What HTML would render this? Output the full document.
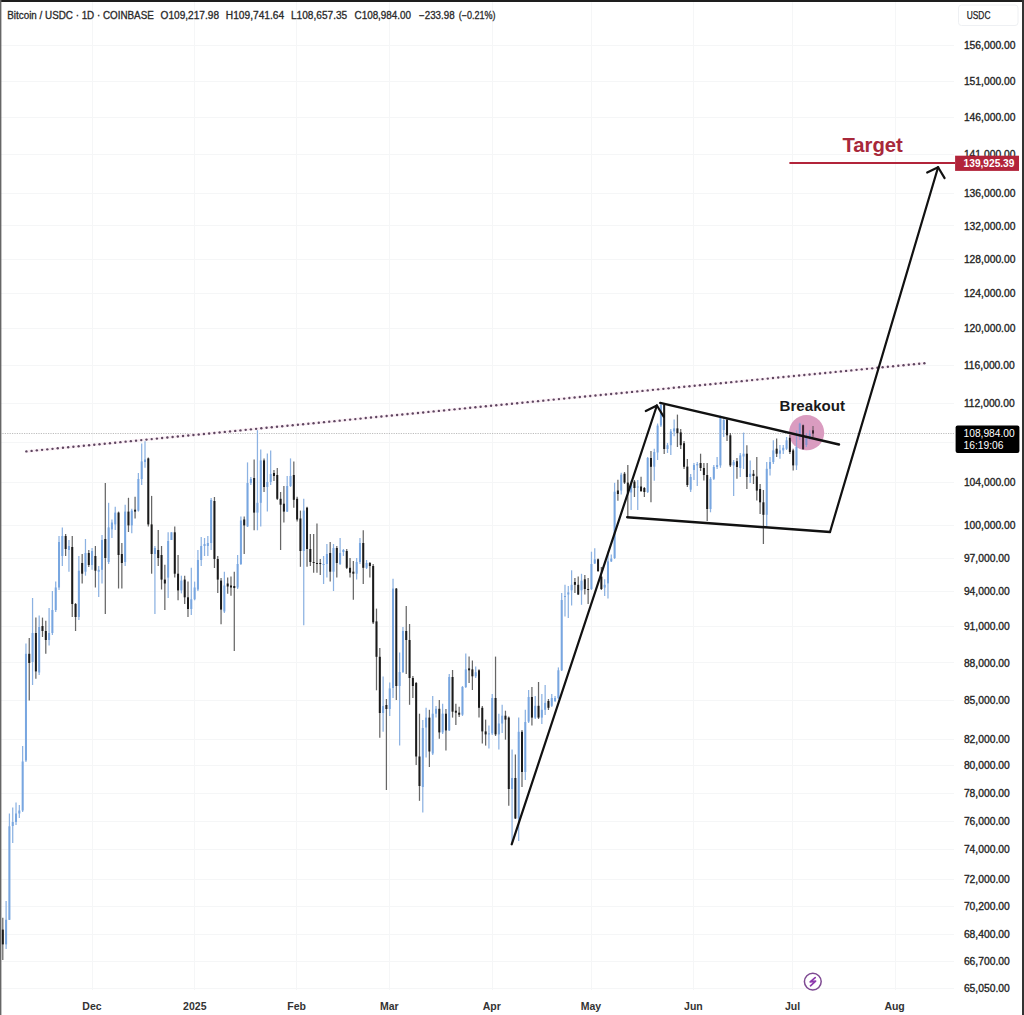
<!DOCTYPE html>
<html><head><meta charset="utf-8"><title>BTC USDC</title><style>
html,body{margin:0;padding:0;width:1024px;height:1015px;overflow:hidden;background:#fff}
svg{display:block}
text{font-family:"Liberation Sans",sans-serif}
</style></head><body>
<svg width="1024" height="1015" viewBox="0 0 1024 1015">
<line x1="0" y1="45.5" x2="954" y2="45.5" stroke="#f5f6f7" stroke-width="1"/>
<line x1="0" y1="81.5" x2="954" y2="81.5" stroke="#f5f6f7" stroke-width="1"/>
<line x1="0" y1="117.5" x2="954" y2="117.5" stroke="#f5f6f7" stroke-width="1"/>
<line x1="0" y1="154.5" x2="954" y2="154.5" stroke="#f5f6f7" stroke-width="1"/>
<line x1="0" y1="193.5" x2="954" y2="193.5" stroke="#f5f6f7" stroke-width="1"/>
<line x1="0" y1="225.5" x2="954" y2="225.5" stroke="#f5f6f7" stroke-width="1"/>
<line x1="0" y1="259.5" x2="954" y2="259.5" stroke="#f5f6f7" stroke-width="1"/>
<line x1="0" y1="293.5" x2="954" y2="293.5" stroke="#f5f6f7" stroke-width="1"/>
<line x1="0" y1="328.5" x2="954" y2="328.5" stroke="#f5f6f7" stroke-width="1"/>
<line x1="0" y1="365.5" x2="954" y2="365.5" stroke="#f5f6f7" stroke-width="1"/>
<line x1="0" y1="403.5" x2="954" y2="403.5" stroke="#f5f6f7" stroke-width="1"/>
<line x1="0" y1="442.5" x2="954" y2="442.5" stroke="#f5f6f7" stroke-width="1"/>
<line x1="0" y1="482.5" x2="954" y2="482.5" stroke="#f5f6f7" stroke-width="1"/>
<line x1="0" y1="525.5" x2="954" y2="525.5" stroke="#f5f6f7" stroke-width="1"/>
<line x1="0" y1="558.5" x2="954" y2="558.5" stroke="#f5f6f7" stroke-width="1"/>
<line x1="0" y1="591.5" x2="954" y2="591.5" stroke="#f5f6f7" stroke-width="1"/>
<line x1="0" y1="626.5" x2="954" y2="626.5" stroke="#f5f6f7" stroke-width="1"/>
<line x1="0" y1="662.5" x2="954" y2="662.5" stroke="#f5f6f7" stroke-width="1"/>
<line x1="0" y1="700.5" x2="954" y2="700.5" stroke="#f5f6f7" stroke-width="1"/>
<line x1="0" y1="739.5" x2="954" y2="739.5" stroke="#f5f6f7" stroke-width="1"/>
<line x1="0" y1="765.5" x2="954" y2="765.5" stroke="#f5f6f7" stroke-width="1"/>
<line x1="0" y1="793.5" x2="954" y2="793.5" stroke="#f5f6f7" stroke-width="1"/>
<line x1="0" y1="821.5" x2="954" y2="821.5" stroke="#f5f6f7" stroke-width="1"/>
<line x1="0" y1="849.5" x2="954" y2="849.5" stroke="#f5f6f7" stroke-width="1"/>
<line x1="0" y1="879.5" x2="954" y2="879.5" stroke="#f5f6f7" stroke-width="1"/>
<line x1="0" y1="906.5" x2="954" y2="906.5" stroke="#f5f6f7" stroke-width="1"/>
<line x1="0" y1="934.5" x2="954" y2="934.5" stroke="#f5f6f7" stroke-width="1"/>
<line x1="0" y1="961.5" x2="954" y2="961.5" stroke="#f5f6f7" stroke-width="1"/>
<line x1="0" y1="988.5" x2="954" y2="988.5" stroke="#f5f6f7" stroke-width="1"/>
<line x1="92.5" y1="0" x2="92.5" y2="990" stroke="#f5f6f7" stroke-width="1"/>
<line x1="194.5" y1="0" x2="194.5" y2="990" stroke="#f5f6f7" stroke-width="1"/>
<line x1="296.5" y1="0" x2="296.5" y2="990" stroke="#f5f6f7" stroke-width="1"/>
<line x1="389.5" y1="0" x2="389.5" y2="990" stroke="#f5f6f7" stroke-width="1"/>
<line x1="492.5" y1="0" x2="492.5" y2="990" stroke="#f5f6f7" stroke-width="1"/>
<line x1="591.5" y1="0" x2="591.5" y2="990" stroke="#f5f6f7" stroke-width="1"/>
<line x1="693.5" y1="0" x2="693.5" y2="990" stroke="#f5f6f7" stroke-width="1"/>
<line x1="792.5" y1="0" x2="792.5" y2="990" stroke="#f5f6f7" stroke-width="1"/>
<line x1="895.5" y1="0" x2="895.5" y2="990" stroke="#f5f6f7" stroke-width="1"/>
<line x1="0" y1="433.5" x2="955" y2="433.5" stroke="#bdbdbd" stroke-width="1" stroke-dasharray="1.2 1.2"/>
<circle cx="806.6" cy="432.7" r="17.6" fill="#e2afcc"/>
<line x1="2.80" y1="917.8" x2="2.80" y2="960.0" stroke="#666666" stroke-width="1.25"/>
<rect x="1.80" y="929.6" width="2" height="14.8" fill="#1a1a1a"/>
<line x1="6.11" y1="901.0" x2="6.11" y2="949.0" stroke="#8cb2e2" stroke-width="1.25"/>
<rect x="5.11" y="919.8" width="2" height="24.6" fill="#78a6e0"/>
<line x1="9.41" y1="813.5" x2="9.41" y2="920.0" stroke="#8cb2e2" stroke-width="1.25"/>
<rect x="8.41" y="826.3" width="2" height="93.5" fill="#78a6e0"/>
<line x1="12.72" y1="807.6" x2="12.72" y2="843.0" stroke="#8cb2e2" stroke-width="1.25"/>
<rect x="11.72" y="822.0" width="2" height="4.0" fill="#78a6e0"/>
<line x1="16.03" y1="802.6" x2="16.03" y2="825.0" stroke="#8cb2e2" stroke-width="1.25"/>
<rect x="15.03" y="813.5" width="2" height="8.5" fill="#78a6e0"/>
<line x1="19.34" y1="805.0" x2="19.34" y2="818.0" stroke="#8cb2e2" stroke-width="1.25"/>
<rect x="18.34" y="810.5" width="2" height="3.0" fill="#78a6e0"/>
<line x1="22.64" y1="746.0" x2="22.64" y2="812.0" stroke="#8cb2e2" stroke-width="1.25"/>
<rect x="21.64" y="761.5" width="2" height="49.0" fill="#78a6e0"/>
<line x1="25.95" y1="643.5" x2="25.95" y2="762.0" stroke="#8cb2e2" stroke-width="1.25"/>
<rect x="24.95" y="653.8" width="2" height="106.7" fill="#78a6e0"/>
<line x1="29.26" y1="638.0" x2="29.26" y2="700.4" stroke="#666666" stroke-width="1.25"/>
<rect x="28.26" y="653.8" width="2" height="9.2" fill="#1a1a1a"/>
<line x1="32.56" y1="598.0" x2="32.56" y2="685.0" stroke="#8cb2e2" stroke-width="1.25"/>
<rect x="31.56" y="633.0" width="2" height="29.0" fill="#78a6e0"/>
<line x1="35.87" y1="617.6" x2="35.87" y2="678.7" stroke="#666666" stroke-width="1.25"/>
<rect x="34.87" y="633.0" width="2" height="38.4" fill="#1a1a1a"/>
<line x1="39.18" y1="615.5" x2="39.18" y2="675.0" stroke="#8cb2e2" stroke-width="1.25"/>
<rect x="38.18" y="627.0" width="2" height="45.5" fill="#78a6e0"/>
<line x1="42.48" y1="617.6" x2="42.48" y2="637.0" stroke="#666666" stroke-width="1.25"/>
<rect x="41.48" y="626.0" width="2" height="5.0" fill="#1a1a1a"/>
<line x1="45.79" y1="620.7" x2="45.79" y2="653.8" stroke="#666666" stroke-width="1.25"/>
<rect x="44.79" y="631.0" width="2" height="9.0" fill="#1a1a1a"/>
<line x1="49.10" y1="608.0" x2="49.10" y2="645.5" stroke="#8cb2e2" stroke-width="1.25"/>
<rect x="48.10" y="633.0" width="2" height="7.0" fill="#78a6e0"/>
<line x1="52.40" y1="591.0" x2="52.40" y2="635.0" stroke="#8cb2e2" stroke-width="1.25"/>
<rect x="51.40" y="610.0" width="2" height="23.0" fill="#78a6e0"/>
<line x1="55.71" y1="581.6" x2="55.71" y2="612.0" stroke="#8cb2e2" stroke-width="1.25"/>
<rect x="54.71" y="587.5" width="2" height="22.5" fill="#78a6e0"/>
<line x1="59.02" y1="536.0" x2="59.02" y2="590.0" stroke="#8cb2e2" stroke-width="1.25"/>
<rect x="58.02" y="542.0" width="2" height="45.5" fill="#78a6e0"/>
<line x1="62.33" y1="527.4" x2="62.33" y2="566.0" stroke="#8cb2e2" stroke-width="1.25"/>
<rect x="61.33" y="536.0" width="2" height="20.0" fill="#78a6e0"/>
<line x1="65.63" y1="534.0" x2="65.63" y2="556.0" stroke="#666666" stroke-width="1.25"/>
<rect x="64.63" y="536.0" width="2" height="13.0" fill="#1a1a1a"/>
<line x1="68.94" y1="540.0" x2="68.94" y2="571.7" stroke="#8cb2e2" stroke-width="1.25"/>
<rect x="67.94" y="546.0" width="2" height="4.0" fill="#78a6e0"/>
<line x1="72.25" y1="536.0" x2="72.25" y2="617.0" stroke="#666666" stroke-width="1.25"/>
<rect x="71.25" y="547.0" width="2" height="57.0" fill="#1a1a1a"/>
<line x1="75.55" y1="603.0" x2="75.55" y2="631.0" stroke="#666666" stroke-width="1.25"/>
<rect x="74.55" y="604.0" width="2" height="13.0" fill="#1a1a1a"/>
<line x1="78.86" y1="556.0" x2="78.86" y2="620.0" stroke="#8cb2e2" stroke-width="1.25"/>
<rect x="77.86" y="570.7" width="2" height="46.3" fill="#78a6e0"/>
<line x1="82.17" y1="554.0" x2="82.17" y2="583.5" stroke="#666666" stroke-width="1.25"/>
<rect x="81.17" y="563.0" width="2" height="10.7" fill="#1a1a1a"/>
<line x1="85.47" y1="539.0" x2="85.47" y2="575.7" stroke="#8cb2e2" stroke-width="1.25"/>
<rect x="84.47" y="553.0" width="2" height="18.7" fill="#78a6e0"/>
<line x1="88.78" y1="550.0" x2="88.78" y2="567.0" stroke="#666666" stroke-width="1.25"/>
<rect x="87.78" y="553.0" width="2" height="12.0" fill="#1a1a1a"/>
<line x1="92.09" y1="548.0" x2="92.09" y2="569.8" stroke="#8cb2e2" stroke-width="1.25"/>
<rect x="91.09" y="551.0" width="2" height="14.0" fill="#78a6e0"/>
<line x1="95.40" y1="546.0" x2="95.40" y2="587.5" stroke="#666666" stroke-width="1.25"/>
<rect x="94.40" y="556.0" width="2" height="14.7" fill="#1a1a1a"/>
<line x1="98.70" y1="566.0" x2="98.70" y2="597.0" stroke="#8cb2e2" stroke-width="1.25"/>
<rect x="97.70" y="569.8" width="2" height="1.9" fill="#78a6e0"/>
<line x1="102.01" y1="535.0" x2="102.01" y2="583.5" stroke="#8cb2e2" stroke-width="1.25"/>
<rect x="101.01" y="540.0" width="2" height="29.8" fill="#78a6e0"/>
<line x1="105.32" y1="483.0" x2="105.32" y2="614.0" stroke="#666666" stroke-width="1.25"/>
<rect x="104.32" y="539.0" width="2" height="19.0" fill="#1a1a1a"/>
<line x1="108.62" y1="502.8" x2="108.62" y2="564.0" stroke="#8cb2e2" stroke-width="1.25"/>
<rect x="107.62" y="527.4" width="2" height="34.6" fill="#78a6e0"/>
<line x1="111.93" y1="519.5" x2="111.93" y2="538.0" stroke="#8cb2e2" stroke-width="1.25"/>
<rect x="110.93" y="522.5" width="2" height="6.9" fill="#78a6e0"/>
<line x1="115.24" y1="506.7" x2="115.24" y2="530.0" stroke="#8cb2e2" stroke-width="1.25"/>
<rect x="114.24" y="512.6" width="2" height="11.8" fill="#78a6e0"/>
<line x1="118.55" y1="511.6" x2="118.55" y2="588.5" stroke="#666666" stroke-width="1.25"/>
<rect x="117.55" y="512.6" width="2" height="42.4" fill="#1a1a1a"/>
<line x1="121.85" y1="543.0" x2="121.85" y2="588.5" stroke="#666666" stroke-width="1.25"/>
<rect x="120.85" y="554.0" width="2" height="9.0" fill="#1a1a1a"/>
<line x1="125.16" y1="504.7" x2="125.16" y2="566.0" stroke="#8cb2e2" stroke-width="1.25"/>
<rect x="124.16" y="511.6" width="2" height="50.4" fill="#78a6e0"/>
<line x1="128.47" y1="497.8" x2="128.47" y2="532.0" stroke="#666666" stroke-width="1.25"/>
<rect x="127.47" y="511.6" width="2" height="13.8" fill="#1a1a1a"/>
<line x1="131.77" y1="508.7" x2="131.77" y2="533.3" stroke="#8cb2e2" stroke-width="1.25"/>
<rect x="130.77" y="510.6" width="2" height="14.8" fill="#78a6e0"/>
<line x1="135.08" y1="496.8" x2="135.08" y2="518.5" stroke="#666666" stroke-width="1.25"/>
<rect x="134.08" y="509.7" width="2" height="1.9" fill="#1a1a1a"/>
<line x1="138.39" y1="473.0" x2="138.39" y2="511.6" stroke="#8cb2e2" stroke-width="1.25"/>
<rect x="137.39" y="479.0" width="2" height="31.6" fill="#78a6e0"/>
<line x1="141.69" y1="443.6" x2="141.69" y2="485.0" stroke="#8cb2e2" stroke-width="1.25"/>
<rect x="140.69" y="461.4" width="2" height="17.6" fill="#78a6e0"/>
<line x1="145.00" y1="439.4" x2="145.00" y2="467.8" stroke="#8cb2e2" stroke-width="1.25"/>
<rect x="144.00" y="459.5" width="2" height="2.5" fill="#78a6e0"/>
<line x1="148.31" y1="457.4" x2="148.31" y2="526.4" stroke="#666666" stroke-width="1.25"/>
<rect x="147.31" y="458.4" width="2" height="66.0" fill="#1a1a1a"/>
<line x1="151.62" y1="495.9" x2="151.62" y2="573.7" stroke="#666666" stroke-width="1.25"/>
<rect x="150.62" y="524.4" width="2" height="29.6" fill="#1a1a1a"/>
<line x1="154.92" y1="546.0" x2="154.92" y2="614.0" stroke="#8cb2e2" stroke-width="1.25"/>
<rect x="153.92" y="548.0" width="2" height="6.0" fill="#78a6e0"/>
<line x1="158.23" y1="530.0" x2="158.23" y2="566.0" stroke="#666666" stroke-width="1.25"/>
<rect x="157.23" y="550.0" width="2" height="8.0" fill="#1a1a1a"/>
<line x1="161.54" y1="546.0" x2="161.54" y2="589.5" stroke="#666666" stroke-width="1.25"/>
<rect x="160.54" y="555.0" width="2" height="24.6" fill="#1a1a1a"/>
<line x1="164.84" y1="564.8" x2="164.84" y2="610.0" stroke="#666666" stroke-width="1.25"/>
<rect x="163.84" y="579.6" width="2" height="3.9" fill="#1a1a1a"/>
<line x1="168.15" y1="532.3" x2="168.15" y2="598.0" stroke="#8cb2e2" stroke-width="1.25"/>
<rect x="167.15" y="541.0" width="2" height="36.6" fill="#78a6e0"/>
<line x1="171.46" y1="532.3" x2="171.46" y2="540.0" stroke="#8cb2e2" stroke-width="1.25"/>
<rect x="170.46" y="532.3" width="2" height="7.7" fill="#78a6e0"/>
<line x1="174.76" y1="526.4" x2="174.76" y2="577.6" stroke="#666666" stroke-width="1.25"/>
<rect x="173.76" y="532.3" width="2" height="41.4" fill="#1a1a1a"/>
<line x1="178.07" y1="555.0" x2="178.07" y2="600.3" stroke="#666666" stroke-width="1.25"/>
<rect x="177.07" y="573.7" width="2" height="16.7" fill="#1a1a1a"/>
<line x1="181.38" y1="575.7" x2="181.38" y2="593.4" stroke="#8cb2e2" stroke-width="1.25"/>
<rect x="180.38" y="580.6" width="2" height="9.8" fill="#78a6e0"/>
<line x1="184.69" y1="575.7" x2="184.69" y2="604.0" stroke="#666666" stroke-width="1.25"/>
<rect x="183.69" y="579.6" width="2" height="17.7" fill="#1a1a1a"/>
<line x1="187.99" y1="581.6" x2="187.99" y2="617.0" stroke="#666666" stroke-width="1.25"/>
<rect x="186.99" y="597.3" width="2" height="11.7" fill="#1a1a1a"/>
<line x1="191.30" y1="567.8" x2="191.30" y2="615.0" stroke="#8cb2e2" stroke-width="1.25"/>
<rect x="190.30" y="599.3" width="2" height="9.7" fill="#78a6e0"/>
<line x1="194.61" y1="581.6" x2="194.61" y2="600.3" stroke="#8cb2e2" stroke-width="1.25"/>
<rect x="193.61" y="587.5" width="2" height="11.8" fill="#78a6e0"/>
<line x1="197.91" y1="550.0" x2="197.91" y2="591.0" stroke="#8cb2e2" stroke-width="1.25"/>
<rect x="196.91" y="560.0" width="2" height="29.5" fill="#78a6e0"/>
<line x1="201.22" y1="537.0" x2="201.22" y2="566.0" stroke="#8cb2e2" stroke-width="1.25"/>
<rect x="200.22" y="546.0" width="2" height="14.0" fill="#78a6e0"/>
<line x1="204.53" y1="538.0" x2="204.53" y2="556.0" stroke="#8cb2e2" stroke-width="1.25"/>
<rect x="203.53" y="544.0" width="2" height="2.0" fill="#78a6e0"/>
<line x1="207.83" y1="536.0" x2="207.83" y2="556.0" stroke="#8cb2e2" stroke-width="1.25"/>
<rect x="206.83" y="543.0" width="2" height="3.0" fill="#78a6e0"/>
<line x1="211.14" y1="498.0" x2="211.14" y2="550.0" stroke="#8cb2e2" stroke-width="1.25"/>
<rect x="210.14" y="500.0" width="2" height="43.0" fill="#78a6e0"/>
<line x1="214.45" y1="497.0" x2="214.45" y2="568.0" stroke="#666666" stroke-width="1.25"/>
<rect x="213.45" y="501.0" width="2" height="58.0" fill="#1a1a1a"/>
<line x1="217.75" y1="556.0" x2="217.75" y2="593.0" stroke="#666666" stroke-width="1.25"/>
<rect x="216.75" y="559.0" width="2" height="20.6" fill="#1a1a1a"/>
<line x1="221.06" y1="578.0" x2="221.06" y2="624.3" stroke="#666666" stroke-width="1.25"/>
<rect x="220.06" y="580.6" width="2" height="29.0" fill="#1a1a1a"/>
<line x1="224.37" y1="571.7" x2="224.37" y2="613.0" stroke="#8cb2e2" stroke-width="1.25"/>
<rect x="223.37" y="585.5" width="2" height="26.0" fill="#78a6e0"/>
<line x1="227.68" y1="577.6" x2="227.68" y2="593.8" stroke="#666666" stroke-width="1.25"/>
<rect x="226.68" y="583.5" width="2" height="3.0" fill="#1a1a1a"/>
<line x1="230.98" y1="576.6" x2="230.98" y2="595.8" stroke="#666666" stroke-width="1.25"/>
<rect x="229.98" y="585.5" width="2" height="2.0" fill="#1a1a1a"/>
<line x1="234.29" y1="571.7" x2="234.29" y2="651.0" stroke="#666666" stroke-width="1.25"/>
<rect x="233.29" y="586.0" width="2" height="2.0" fill="#1a1a1a"/>
<line x1="237.60" y1="555.0" x2="237.60" y2="589.0" stroke="#8cb2e2" stroke-width="1.25"/>
<rect x="236.60" y="564.0" width="2" height="23.5" fill="#78a6e0"/>
<line x1="240.90" y1="516.5" x2="240.90" y2="565.0" stroke="#8cb2e2" stroke-width="1.25"/>
<rect x="239.90" y="520.5" width="2" height="43.5" fill="#78a6e0"/>
<line x1="244.21" y1="516.5" x2="244.21" y2="554.0" stroke="#666666" stroke-width="1.25"/>
<rect x="243.21" y="519.5" width="2" height="5.9" fill="#1a1a1a"/>
<line x1="247.52" y1="462.4" x2="247.52" y2="527.0" stroke="#8cb2e2" stroke-width="1.25"/>
<rect x="246.52" y="483.0" width="2" height="43.4" fill="#78a6e0"/>
<line x1="250.83" y1="477.0" x2="250.83" y2="485.0" stroke="#8cb2e2" stroke-width="1.25"/>
<rect x="249.83" y="479.0" width="2" height="4.0" fill="#78a6e0"/>
<line x1="254.13" y1="459.4" x2="254.13" y2="530.3" stroke="#666666" stroke-width="1.25"/>
<rect x="253.13" y="478.0" width="2" height="34.6" fill="#1a1a1a"/>
<line x1="257.44" y1="428.9" x2="257.44" y2="530.3" stroke="#8cb2e2" stroke-width="1.25"/>
<rect x="256.44" y="502.8" width="2" height="9.8" fill="#78a6e0"/>
<line x1="260.75" y1="449.6" x2="260.75" y2="526.4" stroke="#8cb2e2" stroke-width="1.25"/>
<rect x="259.75" y="460.4" width="2" height="42.4" fill="#78a6e0"/>
<line x1="264.05" y1="458.4" x2="264.05" y2="492.0" stroke="#666666" stroke-width="1.25"/>
<rect x="263.05" y="460.4" width="2" height="26.6" fill="#1a1a1a"/>
<line x1="267.36" y1="453.5" x2="267.36" y2="511.6" stroke="#8cb2e2" stroke-width="1.25"/>
<rect x="266.36" y="482.0" width="2" height="5.0" fill="#78a6e0"/>
<line x1="270.67" y1="450.5" x2="270.67" y2="485.0" stroke="#8cb2e2" stroke-width="1.25"/>
<rect x="269.67" y="474.0" width="2" height="8.0" fill="#78a6e0"/>
<line x1="273.97" y1="470.0" x2="273.97" y2="481.0" stroke="#666666" stroke-width="1.25"/>
<rect x="272.97" y="473.0" width="2" height="3.0" fill="#1a1a1a"/>
<line x1="277.28" y1="468.0" x2="277.28" y2="500.0" stroke="#666666" stroke-width="1.25"/>
<rect x="276.28" y="475.0" width="2" height="23.8" fill="#1a1a1a"/>
<line x1="280.59" y1="492.0" x2="280.59" y2="550.0" stroke="#666666" stroke-width="1.25"/>
<rect x="279.59" y="498.8" width="2" height="5.9" fill="#1a1a1a"/>
<line x1="283.89" y1="486.0" x2="283.89" y2="522.5" stroke="#666666" stroke-width="1.25"/>
<rect x="282.89" y="503.7" width="2" height="7.9" fill="#1a1a1a"/>
<line x1="287.20" y1="476.0" x2="287.20" y2="512.0" stroke="#8cb2e2" stroke-width="1.25"/>
<rect x="286.20" y="486.0" width="2" height="25.6" fill="#78a6e0"/>
<line x1="290.51" y1="458.4" x2="290.51" y2="487.0" stroke="#8cb2e2" stroke-width="1.25"/>
<rect x="289.51" y="476.0" width="2" height="10.0" fill="#78a6e0"/>
<line x1="293.82" y1="461.4" x2="293.82" y2="507.7" stroke="#666666" stroke-width="1.25"/>
<rect x="292.82" y="475.0" width="2" height="24.8" fill="#1a1a1a"/>
<line x1="297.12" y1="496.8" x2="297.12" y2="521.5" stroke="#666666" stroke-width="1.25"/>
<rect x="296.12" y="498.8" width="2" height="20.7" fill="#1a1a1a"/>
<line x1="300.43" y1="510.6" x2="300.43" y2="566.8" stroke="#666666" stroke-width="1.25"/>
<rect x="299.43" y="518.5" width="2" height="32.5" fill="#1a1a1a"/>
<line x1="303.74" y1="498.8" x2="303.74" y2="625.3" stroke="#8cb2e2" stroke-width="1.25"/>
<rect x="302.74" y="510.6" width="2" height="40.4" fill="#78a6e0"/>
<line x1="307.04" y1="506.7" x2="307.04" y2="566.8" stroke="#666666" stroke-width="1.25"/>
<rect x="306.04" y="507.7" width="2" height="41.3" fill="#1a1a1a"/>
<line x1="310.35" y1="534.0" x2="310.35" y2="566.0" stroke="#666666" stroke-width="1.25"/>
<rect x="309.35" y="549.0" width="2" height="13.0" fill="#1a1a1a"/>
<line x1="313.66" y1="534.0" x2="313.66" y2="572.7" stroke="#666666" stroke-width="1.25"/>
<rect x="312.66" y="562.0" width="2" height="1.0" fill="#1a1a1a"/>
<line x1="316.97" y1="523.4" x2="316.97" y2="572.7" stroke="#666666" stroke-width="1.25"/>
<rect x="315.97" y="563.0" width="2" height="1.0" fill="#1a1a1a"/>
<line x1="320.27" y1="559.0" x2="320.27" y2="575.0" stroke="#666666" stroke-width="1.25"/>
<rect x="319.27" y="563.0" width="2" height="1.0" fill="#1a1a1a"/>
<line x1="323.58" y1="556.0" x2="323.58" y2="584.0" stroke="#8cb2e2" stroke-width="1.25"/>
<rect x="322.58" y="564.0" width="2" height="1.0" fill="#78a6e0"/>
<line x1="326.89" y1="544.0" x2="326.89" y2="577.6" stroke="#8cb2e2" stroke-width="1.25"/>
<rect x="325.89" y="554.0" width="2" height="10.0" fill="#78a6e0"/>
<line x1="330.19" y1="542.0" x2="330.19" y2="581.6" stroke="#666666" stroke-width="1.25"/>
<rect x="329.19" y="553.0" width="2" height="18.7" fill="#1a1a1a"/>
<line x1="333.50" y1="544.0" x2="333.50" y2="591.0" stroke="#8cb2e2" stroke-width="1.25"/>
<rect x="332.50" y="548.0" width="2" height="23.7" fill="#78a6e0"/>
<line x1="336.81" y1="546.0" x2="336.81" y2="577.6" stroke="#666666" stroke-width="1.25"/>
<rect x="335.81" y="548.0" width="2" height="15.0" fill="#1a1a1a"/>
<line x1="340.11" y1="538.0" x2="340.11" y2="565.0" stroke="#8cb2e2" stroke-width="1.25"/>
<rect x="339.11" y="553.0" width="2" height="11.0" fill="#78a6e0"/>
<line x1="343.42" y1="549.0" x2="343.42" y2="556.0" stroke="#8cb2e2" stroke-width="1.25"/>
<rect x="342.42" y="550.0" width="2" height="2.0" fill="#78a6e0"/>
<line x1="346.73" y1="549.0" x2="346.73" y2="569.0" stroke="#666666" stroke-width="1.25"/>
<rect x="345.73" y="551.0" width="2" height="16.8" fill="#1a1a1a"/>
<line x1="350.04" y1="558.0" x2="350.04" y2="577.6" stroke="#666666" stroke-width="1.25"/>
<rect x="349.04" y="567.8" width="2" height="4.9" fill="#1a1a1a"/>
<line x1="353.34" y1="561.0" x2="353.34" y2="599.7" stroke="#666666" stroke-width="1.25"/>
<rect x="352.34" y="571.7" width="2" height="2.0" fill="#1a1a1a"/>
<line x1="356.65" y1="558.0" x2="356.65" y2="579.6" stroke="#8cb2e2" stroke-width="1.25"/>
<rect x="355.65" y="562.0" width="2" height="11.7" fill="#78a6e0"/>
<line x1="359.96" y1="538.0" x2="359.96" y2="564.0" stroke="#8cb2e2" stroke-width="1.25"/>
<rect x="358.96" y="543.0" width="2" height="19.0" fill="#78a6e0"/>
<line x1="363.26" y1="530.3" x2="363.26" y2="584.0" stroke="#666666" stroke-width="1.25"/>
<rect x="362.26" y="543.0" width="2" height="24.8" fill="#1a1a1a"/>
<line x1="366.57" y1="560.0" x2="366.57" y2="569.0" stroke="#8cb2e2" stroke-width="1.25"/>
<rect x="365.57" y="563.0" width="2" height="4.8" fill="#78a6e0"/>
<line x1="369.88" y1="562.0" x2="369.88" y2="577.6" stroke="#666666" stroke-width="1.25"/>
<rect x="368.88" y="563.0" width="2" height="3.0" fill="#1a1a1a"/>
<line x1="373.18" y1="564.0" x2="373.18" y2="624.0" stroke="#666666" stroke-width="1.25"/>
<rect x="372.18" y="566.0" width="2" height="56.4" fill="#1a1a1a"/>
<line x1="376.49" y1="608.6" x2="376.49" y2="690.3" stroke="#666666" stroke-width="1.25"/>
<rect x="375.49" y="621.4" width="2" height="35.4" fill="#1a1a1a"/>
<line x1="379.80" y1="648.0" x2="379.80" y2="737.7" stroke="#666666" stroke-width="1.25"/>
<rect x="378.80" y="656.8" width="2" height="56.2" fill="#1a1a1a"/>
<line x1="383.11" y1="676.5" x2="383.11" y2="731.7" stroke="#8cb2e2" stroke-width="1.25"/>
<rect x="382.11" y="706.0" width="2" height="7.0" fill="#78a6e0"/>
<line x1="386.41" y1="699.0" x2="386.41" y2="790.0" stroke="#666666" stroke-width="1.25"/>
<rect x="385.41" y="705.0" width="2" height="4.0" fill="#1a1a1a"/>
<line x1="389.72" y1="682.5" x2="389.72" y2="716.0" stroke="#8cb2e2" stroke-width="1.25"/>
<rect x="388.72" y="688.4" width="2" height="20.6" fill="#78a6e0"/>
<line x1="393.03" y1="578.7" x2="393.03" y2="698.0" stroke="#8cb2e2" stroke-width="1.25"/>
<rect x="392.03" y="588.6" width="2" height="99.4" fill="#78a6e0"/>
<line x1="396.33" y1="588.0" x2="396.33" y2="700.0" stroke="#666666" stroke-width="1.25"/>
<rect x="395.33" y="588.6" width="2" height="97.4" fill="#1a1a1a"/>
<line x1="399.64" y1="652.6" x2="399.64" y2="745.6" stroke="#8cb2e2" stroke-width="1.25"/>
<rect x="398.64" y="672.0" width="2" height="14.0" fill="#78a6e0"/>
<line x1="402.95" y1="627.0" x2="402.95" y2="673.0" stroke="#8cb2e2" stroke-width="1.25"/>
<rect x="401.95" y="631.0" width="2" height="41.0" fill="#78a6e0"/>
<line x1="406.25" y1="606.0" x2="406.25" y2="674.0" stroke="#666666" stroke-width="1.25"/>
<rect x="405.25" y="631.0" width="2" height="9.0" fill="#1a1a1a"/>
<line x1="409.56" y1="624.0" x2="409.56" y2="704.8" stroke="#666666" stroke-width="1.25"/>
<rect x="408.56" y="640.0" width="2" height="38.0" fill="#1a1a1a"/>
<line x1="412.87" y1="676.0" x2="412.87" y2="698.0" stroke="#666666" stroke-width="1.25"/>
<rect x="411.87" y="678.0" width="2" height="8.0" fill="#1a1a1a"/>
<line x1="416.18" y1="682.0" x2="416.18" y2="765.0" stroke="#666666" stroke-width="1.25"/>
<rect x="415.18" y="683.0" width="2" height="73.5" fill="#1a1a1a"/>
<line x1="419.48" y1="713.7" x2="419.48" y2="800.8" stroke="#666666" stroke-width="1.25"/>
<rect x="418.48" y="756.5" width="2" height="29.5" fill="#1a1a1a"/>
<line x1="422.79" y1="720.0" x2="422.79" y2="812.6" stroke="#8cb2e2" stroke-width="1.25"/>
<rect x="421.79" y="728.0" width="2" height="59.0" fill="#78a6e0"/>
<line x1="426.10" y1="707.8" x2="426.10" y2="757.4" stroke="#8cb2e2" stroke-width="1.25"/>
<rect x="425.10" y="717.6" width="2" height="9.9" fill="#78a6e0"/>
<line x1="429.40" y1="709.8" x2="429.40" y2="767.0" stroke="#666666" stroke-width="1.25"/>
<rect x="428.40" y="717.6" width="2" height="33.9" fill="#1a1a1a"/>
<line x1="432.71" y1="696.0" x2="432.71" y2="755.0" stroke="#8cb2e2" stroke-width="1.25"/>
<rect x="431.71" y="713.7" width="2" height="39.8" fill="#78a6e0"/>
<line x1="436.02" y1="706.0" x2="436.02" y2="717.6" stroke="#8cb2e2" stroke-width="1.25"/>
<rect x="435.02" y="708.8" width="2" height="4.9" fill="#78a6e0"/>
<line x1="439.32" y1="700.0" x2="439.32" y2="738.7" stroke="#666666" stroke-width="1.25"/>
<rect x="438.32" y="708.8" width="2" height="23.6" fill="#1a1a1a"/>
<line x1="442.63" y1="703.8" x2="442.63" y2="734.0" stroke="#8cb2e2" stroke-width="1.25"/>
<rect x="441.63" y="713.7" width="2" height="18.7" fill="#78a6e0"/>
<line x1="445.94" y1="709.0" x2="445.94" y2="750.5" stroke="#666666" stroke-width="1.25"/>
<rect x="444.94" y="713.7" width="2" height="16.7" fill="#1a1a1a"/>
<line x1="449.25" y1="674.0" x2="449.25" y2="731.0" stroke="#8cb2e2" stroke-width="1.25"/>
<rect x="448.25" y="677.0" width="2" height="53.4" fill="#78a6e0"/>
<line x1="452.55" y1="670.0" x2="452.55" y2="717.6" stroke="#666666" stroke-width="1.25"/>
<rect x="451.55" y="677.0" width="2" height="34.7" fill="#1a1a1a"/>
<line x1="455.86" y1="703.8" x2="455.86" y2="725.0" stroke="#666666" stroke-width="1.25"/>
<rect x="454.86" y="710.7" width="2" height="2.0" fill="#1a1a1a"/>
<line x1="459.17" y1="706.8" x2="459.17" y2="717.0" stroke="#666666" stroke-width="1.25"/>
<rect x="458.17" y="712.7" width="2" height="2.0" fill="#1a1a1a"/>
<line x1="462.47" y1="686.0" x2="462.47" y2="716.0" stroke="#8cb2e2" stroke-width="1.25"/>
<rect x="461.47" y="687.0" width="2" height="27.7" fill="#78a6e0"/>
<line x1="465.78" y1="653.6" x2="465.78" y2="688.0" stroke="#8cb2e2" stroke-width="1.25"/>
<rect x="464.78" y="669.4" width="2" height="17.6" fill="#78a6e0"/>
<line x1="469.09" y1="656.6" x2="469.09" y2="683.0" stroke="#666666" stroke-width="1.25"/>
<rect x="468.09" y="668.4" width="2" height="1.9" fill="#1a1a1a"/>
<line x1="472.39" y1="660.5" x2="472.39" y2="690.0" stroke="#666666" stroke-width="1.25"/>
<rect x="471.39" y="669.4" width="2" height="6.9" fill="#1a1a1a"/>
<line x1="475.70" y1="666.4" x2="475.70" y2="678.0" stroke="#8cb2e2" stroke-width="1.25"/>
<rect x="474.70" y="672.3" width="2" height="4.0" fill="#78a6e0"/>
<line x1="479.01" y1="669.3" x2="479.01" y2="717.6" stroke="#666666" stroke-width="1.25"/>
<rect x="478.01" y="670.3" width="2" height="37.5" fill="#1a1a1a"/>
<line x1="482.31" y1="706.0" x2="482.31" y2="743.6" stroke="#666666" stroke-width="1.25"/>
<rect x="481.31" y="707.8" width="2" height="23.6" fill="#1a1a1a"/>
<line x1="485.62" y1="719.6" x2="485.62" y2="745.6" stroke="#666666" stroke-width="1.25"/>
<rect x="484.62" y="731.4" width="2" height="3.0" fill="#1a1a1a"/>
<line x1="488.93" y1="725.5" x2="488.93" y2="748.6" stroke="#8cb2e2" stroke-width="1.25"/>
<rect x="487.93" y="733.4" width="2" height="1.0" fill="#78a6e0"/>
<line x1="492.24" y1="694.0" x2="492.24" y2="735.0" stroke="#8cb2e2" stroke-width="1.25"/>
<rect x="491.24" y="698.0" width="2" height="35.4" fill="#78a6e0"/>
<line x1="495.54" y1="656.6" x2="495.54" y2="736.0" stroke="#666666" stroke-width="1.25"/>
<rect x="494.54" y="698.0" width="2" height="36.4" fill="#1a1a1a"/>
<line x1="498.85" y1="713.7" x2="498.85" y2="749.6" stroke="#8cb2e2" stroke-width="1.25"/>
<rect x="497.85" y="723.5" width="2" height="10.9" fill="#78a6e0"/>
<line x1="502.16" y1="704.8" x2="502.16" y2="733.0" stroke="#8cb2e2" stroke-width="1.25"/>
<rect x="501.16" y="715.7" width="2" height="7.8" fill="#78a6e0"/>
<line x1="505.46" y1="710.7" x2="505.46" y2="739.7" stroke="#666666" stroke-width="1.25"/>
<rect x="504.46" y="715.7" width="2" height="3.9" fill="#1a1a1a"/>
<line x1="508.77" y1="716.6" x2="508.77" y2="805.7" stroke="#666666" stroke-width="1.25"/>
<rect x="507.77" y="717.6" width="2" height="71.4" fill="#1a1a1a"/>
<line x1="512.08" y1="749.6" x2="512.08" y2="843.0" stroke="#8cb2e2" stroke-width="1.25"/>
<rect x="511.08" y="778.0" width="2" height="11.0" fill="#78a6e0"/>
<line x1="515.38" y1="754.5" x2="515.38" y2="819.0" stroke="#666666" stroke-width="1.25"/>
<rect x="514.38" y="778.0" width="2" height="40.5" fill="#1a1a1a"/>
<line x1="518.69" y1="717.6" x2="518.69" y2="841.0" stroke="#8cb2e2" stroke-width="1.25"/>
<rect x="517.69" y="731.8" width="2" height="86.7" fill="#78a6e0"/>
<line x1="522.00" y1="730.0" x2="522.00" y2="787.0" stroke="#666666" stroke-width="1.25"/>
<rect x="521.00" y="731.8" width="2" height="40.2" fill="#1a1a1a"/>
<line x1="525.31" y1="709.8" x2="525.31" y2="780.0" stroke="#8cb2e2" stroke-width="1.25"/>
<rect x="524.31" y="722.0" width="2" height="50.0" fill="#78a6e0"/>
<line x1="528.61" y1="690.0" x2="528.61" y2="723.0" stroke="#8cb2e2" stroke-width="1.25"/>
<rect x="527.61" y="697.0" width="2" height="24.6" fill="#78a6e0"/>
<line x1="531.92" y1="687.0" x2="531.92" y2="725.5" stroke="#666666" stroke-width="1.25"/>
<rect x="530.92" y="697.0" width="2" height="20.6" fill="#1a1a1a"/>
<line x1="535.23" y1="696.0" x2="535.23" y2="719.0" stroke="#8cb2e2" stroke-width="1.25"/>
<rect x="534.23" y="705.8" width="2" height="11.8" fill="#78a6e0"/>
<line x1="538.53" y1="682.0" x2="538.53" y2="719.0" stroke="#666666" stroke-width="1.25"/>
<rect x="537.53" y="705.8" width="2" height="11.8" fill="#1a1a1a"/>
<line x1="541.84" y1="694.0" x2="541.84" y2="724.0" stroke="#8cb2e2" stroke-width="1.25"/>
<rect x="540.84" y="709.8" width="2" height="7.8" fill="#78a6e0"/>
<line x1="545.15" y1="685.0" x2="545.15" y2="715.0" stroke="#8cb2e2" stroke-width="1.25"/>
<rect x="544.15" y="702.9" width="2" height="6.9" fill="#78a6e0"/>
<line x1="548.45" y1="699.0" x2="548.45" y2="710.0" stroke="#666666" stroke-width="1.25"/>
<rect x="547.45" y="701.0" width="2" height="6.8" fill="#1a1a1a"/>
<line x1="551.76" y1="694.0" x2="551.76" y2="707.0" stroke="#8cb2e2" stroke-width="1.25"/>
<rect x="550.76" y="698.0" width="2" height="7.8" fill="#78a6e0"/>
<line x1="555.07" y1="696.0" x2="555.07" y2="702.0" stroke="#8cb2e2" stroke-width="1.25"/>
<rect x="554.07" y="698.0" width="2" height="3.0" fill="#78a6e0"/>
<line x1="558.38" y1="667.4" x2="558.38" y2="699.0" stroke="#8cb2e2" stroke-width="1.25"/>
<rect x="557.38" y="670.3" width="2" height="27.7" fill="#78a6e0"/>
<line x1="561.68" y1="593.0" x2="561.68" y2="671.0" stroke="#8cb2e2" stroke-width="1.25"/>
<rect x="560.68" y="600.0" width="2" height="70.3" fill="#78a6e0"/>
<line x1="564.99" y1="584.8" x2="564.99" y2="616.6" stroke="#8cb2e2" stroke-width="1.25"/>
<rect x="563.99" y="596.0" width="2" height="1.0" fill="#78a6e0"/>
<line x1="568.30" y1="586.0" x2="568.30" y2="618.0" stroke="#8cb2e2" stroke-width="1.25"/>
<rect x="567.30" y="592.4" width="2" height="2.1" fill="#78a6e0"/>
<line x1="571.60" y1="570.3" x2="571.60" y2="605.5" stroke="#8cb2e2" stroke-width="1.25"/>
<rect x="570.60" y="584.8" width="2" height="5.5" fill="#78a6e0"/>
<line x1="574.91" y1="578.0" x2="574.91" y2="593.0" stroke="#666666" stroke-width="1.25"/>
<rect x="573.91" y="582.0" width="2" height="2.8" fill="#1a1a1a"/>
<line x1="578.22" y1="576.6" x2="578.22" y2="595.0" stroke="#666666" stroke-width="1.25"/>
<rect x="577.22" y="584.8" width="2" height="9.7" fill="#1a1a1a"/>
<line x1="581.52" y1="573.8" x2="581.52" y2="604.8" stroke="#8cb2e2" stroke-width="1.25"/>
<rect x="580.52" y="580.7" width="2" height="9.6" fill="#78a6e0"/>
<line x1="584.83" y1="575.0" x2="584.83" y2="594.5" stroke="#666666" stroke-width="1.25"/>
<rect x="583.83" y="579.3" width="2" height="9.7" fill="#1a1a1a"/>
<line x1="588.14" y1="578.0" x2="588.14" y2="604.0" stroke="#666666" stroke-width="1.25"/>
<rect x="587.14" y="589.0" width="2" height="1.0" fill="#1a1a1a"/>
<line x1="591.45" y1="551.7" x2="591.45" y2="590.0" stroke="#8cb2e2" stroke-width="1.25"/>
<rect x="590.45" y="564.0" width="2" height="25.0" fill="#78a6e0"/>
<line x1="594.75" y1="548.3" x2="594.75" y2="564.0" stroke="#8cb2e2" stroke-width="1.25"/>
<rect x="593.75" y="559.3" width="2" height="4.1" fill="#78a6e0"/>
<line x1="598.06" y1="558.5" x2="598.06" y2="572.0" stroke="#666666" stroke-width="1.25"/>
<rect x="597.06" y="559.3" width="2" height="11.7" fill="#1a1a1a"/>
<line x1="601.37" y1="567.0" x2="601.37" y2="590.0" stroke="#666666" stroke-width="1.25"/>
<rect x="600.37" y="576.6" width="2" height="12.4" fill="#1a1a1a"/>
<line x1="604.67" y1="579.3" x2="604.67" y2="595.9" stroke="#8cb2e2" stroke-width="1.25"/>
<rect x="603.67" y="584.8" width="2" height="2.8" fill="#78a6e0"/>
<line x1="607.98" y1="551.6" x2="607.98" y2="598.6" stroke="#8cb2e2" stroke-width="1.25"/>
<rect x="606.98" y="561.4" width="2" height="22.0" fill="#78a6e0"/>
<line x1="611.29" y1="554.5" x2="611.29" y2="562.0" stroke="#8cb2e2" stroke-width="1.25"/>
<rect x="610.29" y="558.6" width="2" height="2.8" fill="#78a6e0"/>
<line x1="614.59" y1="482.8" x2="614.59" y2="559.0" stroke="#8cb2e2" stroke-width="1.25"/>
<rect x="613.59" y="491.7" width="2" height="66.3" fill="#78a6e0"/>
<line x1="617.90" y1="479.7" x2="617.90" y2="500.7" stroke="#666666" stroke-width="1.25"/>
<rect x="616.90" y="490.5" width="2" height="3.5" fill="#1a1a1a"/>
<line x1="621.21" y1="472.8" x2="621.21" y2="494.4" stroke="#8cb2e2" stroke-width="1.25"/>
<rect x="620.21" y="474.7" width="2" height="15.8" fill="#78a6e0"/>
<line x1="624.52" y1="472.0" x2="624.52" y2="484.0" stroke="#666666" stroke-width="1.25"/>
<rect x="623.52" y="473.7" width="2" height="8.9" fill="#1a1a1a"/>
<line x1="627.82" y1="464.9" x2="627.82" y2="517.0" stroke="#666666" stroke-width="1.25"/>
<rect x="626.82" y="482.6" width="2" height="10.4" fill="#1a1a1a"/>
<line x1="631.13" y1="480.6" x2="631.13" y2="510.0" stroke="#8cb2e2" stroke-width="1.25"/>
<rect x="630.13" y="484.6" width="2" height="7.9" fill="#78a6e0"/>
<line x1="634.44" y1="480.0" x2="634.44" y2="497.0" stroke="#666666" stroke-width="1.25"/>
<rect x="633.44" y="481.6" width="2" height="6.4" fill="#1a1a1a"/>
<line x1="637.74" y1="480.0" x2="637.74" y2="510.0" stroke="#8cb2e2" stroke-width="1.25"/>
<rect x="636.74" y="486.5" width="2" height="1.0" fill="#78a6e0"/>
<line x1="641.05" y1="476.7" x2="641.05" y2="492.0" stroke="#666666" stroke-width="1.25"/>
<rect x="640.05" y="486.5" width="2" height="4.5" fill="#1a1a1a"/>
<line x1="644.36" y1="487.0" x2="644.36" y2="497.0" stroke="#666666" stroke-width="1.25"/>
<rect x="643.36" y="488.0" width="2" height="4.0" fill="#1a1a1a"/>
<line x1="647.66" y1="457.0" x2="647.66" y2="493.0" stroke="#8cb2e2" stroke-width="1.25"/>
<rect x="646.66" y="458.0" width="2" height="34.0" fill="#78a6e0"/>
<line x1="650.97" y1="451.0" x2="650.97" y2="502.3" stroke="#666666" stroke-width="1.25"/>
<rect x="649.97" y="458.0" width="2" height="8.8" fill="#1a1a1a"/>
<line x1="654.28" y1="448.7" x2="654.28" y2="480.7" stroke="#8cb2e2" stroke-width="1.25"/>
<rect x="653.28" y="452.0" width="2" height="14.7" fill="#78a6e0"/>
<line x1="657.59" y1="423.5" x2="657.59" y2="460.0" stroke="#8cb2e2" stroke-width="1.25"/>
<rect x="656.59" y="425.6" width="2" height="26.9" fill="#78a6e0"/>
<line x1="660.89" y1="403.8" x2="660.89" y2="427.0" stroke="#8cb2e2" stroke-width="1.25"/>
<rect x="659.89" y="404.8" width="2" height="20.7" fill="#78a6e0"/>
<line x1="664.20" y1="403.8" x2="664.20" y2="454.0" stroke="#666666" stroke-width="1.25"/>
<rect x="663.20" y="404.8" width="2" height="44.2" fill="#1a1a1a"/>
<line x1="667.51" y1="443.0" x2="667.51" y2="453.0" stroke="#8cb2e2" stroke-width="1.25"/>
<rect x="666.51" y="445.2" width="2" height="3.8" fill="#78a6e0"/>
<line x1="670.81" y1="429.0" x2="670.81" y2="455.0" stroke="#8cb2e2" stroke-width="1.25"/>
<rect x="669.81" y="431.4" width="2" height="13.8" fill="#78a6e0"/>
<line x1="674.12" y1="419.6" x2="674.12" y2="436.3" stroke="#8cb2e2" stroke-width="1.25"/>
<rect x="673.12" y="428.4" width="2" height="3.0" fill="#78a6e0"/>
<line x1="677.43" y1="414.6" x2="677.43" y2="447.0" stroke="#666666" stroke-width="1.25"/>
<rect x="676.43" y="428.4" width="2" height="4.9" fill="#1a1a1a"/>
<line x1="680.73" y1="429.0" x2="680.73" y2="449.0" stroke="#666666" stroke-width="1.25"/>
<rect x="679.73" y="432.4" width="2" height="12.8" fill="#1a1a1a"/>
<line x1="684.04" y1="441.0" x2="684.04" y2="469.0" stroke="#666666" stroke-width="1.25"/>
<rect x="683.04" y="443.2" width="2" height="23.6" fill="#1a1a1a"/>
<line x1="687.35" y1="459.0" x2="687.35" y2="487.0" stroke="#666666" stroke-width="1.25"/>
<rect x="686.35" y="466.6" width="2" height="18.4" fill="#1a1a1a"/>
<line x1="690.66" y1="474.0" x2="690.66" y2="492.0" stroke="#8cb2e2" stroke-width="1.25"/>
<rect x="689.66" y="477.0" width="2" height="12.7" fill="#78a6e0"/>
<line x1="693.96" y1="463.0" x2="693.96" y2="480.0" stroke="#8cb2e2" stroke-width="1.25"/>
<rect x="692.96" y="465.0" width="2" height="5.0" fill="#78a6e0"/>
<line x1="697.27" y1="462.0" x2="697.27" y2="486.0" stroke="#8cb2e2" stroke-width="1.25"/>
<rect x="696.27" y="464.0" width="2" height="1.4" fill="#78a6e0"/>
<line x1="700.58" y1="453.7" x2="700.58" y2="471.0" stroke="#666666" stroke-width="1.25"/>
<rect x="699.58" y="463.0" width="2" height="5.0" fill="#1a1a1a"/>
<line x1="703.88" y1="463.0" x2="703.88" y2="480.5" stroke="#666666" stroke-width="1.25"/>
<rect x="702.88" y="468.0" width="2" height="7.0" fill="#1a1a1a"/>
<line x1="707.19" y1="463.0" x2="707.19" y2="521.0" stroke="#666666" stroke-width="1.25"/>
<rect x="706.19" y="475.0" width="2" height="34.0" fill="#1a1a1a"/>
<line x1="710.50" y1="477.0" x2="710.50" y2="512.3" stroke="#8cb2e2" stroke-width="1.25"/>
<rect x="709.50" y="478.8" width="2" height="30.2" fill="#78a6e0"/>
<line x1="713.80" y1="465.0" x2="713.80" y2="480.0" stroke="#8cb2e2" stroke-width="1.25"/>
<rect x="712.80" y="467.0" width="2" height="11.8" fill="#78a6e0"/>
<line x1="717.11" y1="457.0" x2="717.11" y2="469.0" stroke="#8cb2e2" stroke-width="1.25"/>
<rect x="716.11" y="465.0" width="2" height="2.0" fill="#78a6e0"/>
<line x1="720.42" y1="415.6" x2="720.42" y2="467.8" stroke="#8cb2e2" stroke-width="1.25"/>
<rect x="719.42" y="417.6" width="2" height="47.8" fill="#78a6e0"/>
<line x1="723.73" y1="417.0" x2="723.73" y2="437.0" stroke="#8cb2e2" stroke-width="1.25"/>
<rect x="722.73" y="420.0" width="2" height="10.0" fill="#78a6e0"/>
<line x1="727.03" y1="418.0" x2="727.03" y2="441.0" stroke="#666666" stroke-width="1.25"/>
<rect x="726.03" y="419.6" width="2" height="15.7" fill="#1a1a1a"/>
<line x1="730.34" y1="433.0" x2="730.34" y2="467.0" stroke="#666666" stroke-width="1.25"/>
<rect x="729.34" y="435.3" width="2" height="30.1" fill="#1a1a1a"/>
<line x1="733.65" y1="460.0" x2="733.65" y2="496.0" stroke="#8cb2e2" stroke-width="1.25"/>
<rect x="732.65" y="462.0" width="2" height="3.4" fill="#78a6e0"/>
<line x1="736.95" y1="458.0" x2="736.95" y2="478.8" stroke="#666666" stroke-width="1.25"/>
<rect x="735.95" y="461.2" width="2" height="5.8" fill="#1a1a1a"/>
<line x1="740.26" y1="453.0" x2="740.26" y2="477.0" stroke="#8cb2e2" stroke-width="1.25"/>
<rect x="739.26" y="455.4" width="2" height="12.6" fill="#78a6e0"/>
<line x1="743.57" y1="432.6" x2="743.57" y2="469.0" stroke="#8cb2e2" stroke-width="1.25"/>
<rect x="742.57" y="453.7" width="2" height="2.8" fill="#78a6e0"/>
<line x1="746.87" y1="445.2" x2="746.87" y2="489.0" stroke="#666666" stroke-width="1.25"/>
<rect x="745.87" y="453.7" width="2" height="23.3" fill="#1a1a1a"/>
<line x1="750.18" y1="460.4" x2="750.18" y2="483.0" stroke="#8cb2e2" stroke-width="1.25"/>
<rect x="749.18" y="473.8" width="2" height="3.2" fill="#78a6e0"/>
<line x1="753.49" y1="470.0" x2="753.49" y2="484.0" stroke="#666666" stroke-width="1.25"/>
<rect x="752.49" y="473.8" width="2" height="2.2" fill="#1a1a1a"/>
<line x1="756.80" y1="457.0" x2="756.80" y2="500.5" stroke="#666666" stroke-width="1.25"/>
<rect x="755.80" y="476.5" width="2" height="14.1" fill="#1a1a1a"/>
<line x1="760.10" y1="484.0" x2="760.10" y2="514.0" stroke="#666666" stroke-width="1.25"/>
<rect x="759.10" y="489.0" width="2" height="13.3" fill="#1a1a1a"/>
<line x1="763.41" y1="490.0" x2="763.41" y2="544.0" stroke="#666666" stroke-width="1.25"/>
<rect x="762.41" y="502.3" width="2" height="12.5" fill="#1a1a1a"/>
<line x1="766.72" y1="462.0" x2="766.72" y2="527.4" stroke="#8cb2e2" stroke-width="1.25"/>
<rect x="765.72" y="468.8" width="2" height="46.0" fill="#78a6e0"/>
<line x1="770.02" y1="457.0" x2="770.02" y2="475.5" stroke="#8cb2e2" stroke-width="1.25"/>
<rect x="769.02" y="462.0" width="2" height="6.8" fill="#78a6e0"/>
<line x1="773.33" y1="440.3" x2="773.33" y2="464.0" stroke="#8cb2e2" stroke-width="1.25"/>
<rect x="772.33" y="450.4" width="2" height="11.6" fill="#78a6e0"/>
<line x1="776.64" y1="438.6" x2="776.64" y2="457.0" stroke="#666666" stroke-width="1.25"/>
<rect x="775.64" y="448.7" width="2" height="5.0" fill="#1a1a1a"/>
<line x1="779.94" y1="445.0" x2="779.94" y2="458.7" stroke="#8cb2e2" stroke-width="1.25"/>
<rect x="778.94" y="450.4" width="2" height="3.3" fill="#78a6e0"/>
<line x1="783.25" y1="445.0" x2="783.25" y2="454.0" stroke="#8cb2e2" stroke-width="1.25"/>
<rect x="782.25" y="447.8" width="2" height="2.6" fill="#78a6e0"/>
<line x1="786.56" y1="437.0" x2="786.56" y2="450.0" stroke="#8cb2e2" stroke-width="1.25"/>
<rect x="785.56" y="440.3" width="2" height="8.4" fill="#78a6e0"/>
<line x1="789.87" y1="435.0" x2="789.87" y2="454.0" stroke="#666666" stroke-width="1.25"/>
<rect x="788.87" y="437.8" width="2" height="14.2" fill="#1a1a1a"/>
<line x1="793.17" y1="448.7" x2="793.17" y2="470.5" stroke="#666666" stroke-width="1.25"/>
<rect x="792.17" y="450.4" width="2" height="15.0" fill="#1a1a1a"/>
<line x1="796.48" y1="430.3" x2="796.48" y2="470.0" stroke="#8cb2e2" stroke-width="1.25"/>
<rect x="795.48" y="447.0" width="2" height="18.4" fill="#78a6e0"/>
<line x1="799.79" y1="422.7" x2="799.79" y2="440.0" stroke="#8cb2e2" stroke-width="1.25"/>
<rect x="798.79" y="423.6" width="2" height="13.4" fill="#78a6e0"/>
<line x1="803.09" y1="424.4" x2="803.09" y2="450.0" stroke="#666666" stroke-width="1.25"/>
<rect x="802.09" y="425.2" width="2" height="23.8" fill="#1a1a1a"/>
<line x1="806.40" y1="433.0" x2="806.40" y2="447.0" stroke="#8cb2e2" stroke-width="1.25"/>
<rect x="805.40" y="437.0" width="2" height="8.0" fill="#78a6e0"/>
<line x1="809.71" y1="430.3" x2="809.71" y2="440.3" stroke="#8cb2e2" stroke-width="1.25"/>
<rect x="808.71" y="433.6" width="2" height="5.0" fill="#78a6e0"/>
<line x1="813.01" y1="426.0" x2="813.01" y2="437.0" stroke="#666666" stroke-width="1.25"/>
<rect x="812.01" y="430.3" width="2" height="3.3" fill="#1a1a1a"/>
<line x1="26.4" y1="451.4" x2="924.4" y2="363.2" stroke="#fbf0f6" stroke-width="3"/>
<g fill="#5e4660"><circle cx="26.40" cy="451.40" r="1.2"/><circle cx="31.62" cy="450.89" r="1.2"/><circle cx="36.84" cy="450.37" r="1.2"/><circle cx="42.06" cy="449.86" r="1.2"/><circle cx="47.28" cy="449.35" r="1.2"/><circle cx="52.50" cy="448.84" r="1.2"/><circle cx="57.73" cy="448.32" r="1.2"/><circle cx="62.95" cy="447.81" r="1.2"/><circle cx="68.17" cy="447.30" r="1.2"/><circle cx="73.39" cy="446.78" r="1.2"/><circle cx="78.61" cy="446.27" r="1.2"/><circle cx="83.83" cy="445.76" r="1.2"/><circle cx="89.05" cy="445.25" r="1.2"/><circle cx="94.27" cy="444.73" r="1.2"/><circle cx="99.49" cy="444.22" r="1.2"/><circle cx="104.71" cy="443.71" r="1.2"/><circle cx="109.93" cy="443.20" r="1.2"/><circle cx="115.16" cy="442.68" r="1.2"/><circle cx="120.38" cy="442.17" r="1.2"/><circle cx="125.60" cy="441.66" r="1.2"/><circle cx="130.82" cy="441.14" r="1.2"/><circle cx="136.04" cy="440.63" r="1.2"/><circle cx="141.26" cy="440.12" r="1.2"/><circle cx="146.48" cy="439.61" r="1.2"/><circle cx="151.70" cy="439.09" r="1.2"/><circle cx="156.92" cy="438.58" r="1.2"/><circle cx="162.14" cy="438.07" r="1.2"/><circle cx="167.37" cy="437.55" r="1.2"/><circle cx="172.59" cy="437.04" r="1.2"/><circle cx="177.81" cy="436.53" r="1.2"/><circle cx="183.03" cy="436.02" r="1.2"/><circle cx="188.25" cy="435.50" r="1.2"/><circle cx="193.47" cy="434.99" r="1.2"/><circle cx="198.69" cy="434.48" r="1.2"/><circle cx="203.91" cy="433.97" r="1.2"/><circle cx="209.13" cy="433.45" r="1.2"/><circle cx="214.35" cy="432.94" r="1.2"/><circle cx="219.57" cy="432.43" r="1.2"/><circle cx="224.80" cy="431.91" r="1.2"/><circle cx="230.02" cy="431.40" r="1.2"/><circle cx="235.24" cy="430.89" r="1.2"/><circle cx="240.46" cy="430.38" r="1.2"/><circle cx="245.68" cy="429.86" r="1.2"/><circle cx="250.90" cy="429.35" r="1.2"/><circle cx="256.12" cy="428.84" r="1.2"/><circle cx="261.34" cy="428.32" r="1.2"/><circle cx="266.56" cy="427.81" r="1.2"/><circle cx="271.78" cy="427.30" r="1.2"/><circle cx="277.00" cy="426.79" r="1.2"/><circle cx="282.23" cy="426.27" r="1.2"/><circle cx="287.45" cy="425.76" r="1.2"/><circle cx="292.67" cy="425.25" r="1.2"/><circle cx="297.89" cy="424.73" r="1.2"/><circle cx="303.11" cy="424.22" r="1.2"/><circle cx="308.33" cy="423.71" r="1.2"/><circle cx="313.55" cy="423.20" r="1.2"/><circle cx="318.77" cy="422.68" r="1.2"/><circle cx="323.99" cy="422.17" r="1.2"/><circle cx="329.21" cy="421.66" r="1.2"/><circle cx="334.43" cy="421.15" r="1.2"/><circle cx="339.66" cy="420.63" r="1.2"/><circle cx="344.88" cy="420.12" r="1.2"/><circle cx="350.10" cy="419.61" r="1.2"/><circle cx="355.32" cy="419.09" r="1.2"/><circle cx="360.54" cy="418.58" r="1.2"/><circle cx="365.76" cy="418.07" r="1.2"/><circle cx="370.98" cy="417.56" r="1.2"/><circle cx="376.20" cy="417.04" r="1.2"/><circle cx="381.42" cy="416.53" r="1.2"/><circle cx="386.64" cy="416.02" r="1.2"/><circle cx="391.87" cy="415.50" r="1.2"/><circle cx="397.09" cy="414.99" r="1.2"/><circle cx="402.31" cy="414.48" r="1.2"/><circle cx="407.53" cy="413.97" r="1.2"/><circle cx="412.75" cy="413.45" r="1.2"/><circle cx="417.97" cy="412.94" r="1.2"/><circle cx="423.19" cy="412.43" r="1.2"/><circle cx="428.41" cy="411.92" r="1.2"/><circle cx="433.63" cy="411.40" r="1.2"/><circle cx="438.85" cy="410.89" r="1.2"/><circle cx="444.07" cy="410.38" r="1.2"/><circle cx="449.30" cy="409.86" r="1.2"/><circle cx="454.52" cy="409.35" r="1.2"/><circle cx="459.74" cy="408.84" r="1.2"/><circle cx="464.96" cy="408.33" r="1.2"/><circle cx="470.18" cy="407.81" r="1.2"/><circle cx="475.40" cy="407.30" r="1.2"/><circle cx="480.62" cy="406.79" r="1.2"/><circle cx="485.84" cy="406.27" r="1.2"/><circle cx="491.06" cy="405.76" r="1.2"/><circle cx="496.28" cy="405.25" r="1.2"/><circle cx="501.50" cy="404.74" r="1.2"/><circle cx="506.73" cy="404.22" r="1.2"/><circle cx="511.95" cy="403.71" r="1.2"/><circle cx="517.17" cy="403.20" r="1.2"/><circle cx="522.39" cy="402.68" r="1.2"/><circle cx="527.61" cy="402.17" r="1.2"/><circle cx="532.83" cy="401.66" r="1.2"/><circle cx="538.05" cy="401.15" r="1.2"/><circle cx="543.27" cy="400.63" r="1.2"/><circle cx="548.49" cy="400.12" r="1.2"/><circle cx="553.71" cy="399.61" r="1.2"/><circle cx="558.93" cy="399.10" r="1.2"/><circle cx="564.16" cy="398.58" r="1.2"/><circle cx="569.38" cy="398.07" r="1.2"/><circle cx="574.60" cy="397.56" r="1.2"/><circle cx="579.82" cy="397.04" r="1.2"/><circle cx="585.04" cy="396.53" r="1.2"/><circle cx="590.26" cy="396.02" r="1.2"/><circle cx="595.48" cy="395.51" r="1.2"/><circle cx="600.70" cy="394.99" r="1.2"/><circle cx="605.92" cy="394.48" r="1.2"/><circle cx="611.14" cy="393.97" r="1.2"/><circle cx="616.37" cy="393.45" r="1.2"/><circle cx="621.59" cy="392.94" r="1.2"/><circle cx="626.81" cy="392.43" r="1.2"/><circle cx="632.03" cy="391.92" r="1.2"/><circle cx="637.25" cy="391.40" r="1.2"/><circle cx="642.47" cy="390.89" r="1.2"/><circle cx="647.69" cy="390.38" r="1.2"/><circle cx="652.91" cy="389.87" r="1.2"/><circle cx="658.13" cy="389.35" r="1.2"/><circle cx="663.35" cy="388.84" r="1.2"/><circle cx="668.57" cy="388.33" r="1.2"/><circle cx="673.80" cy="387.81" r="1.2"/><circle cx="679.02" cy="387.30" r="1.2"/><circle cx="684.24" cy="386.79" r="1.2"/><circle cx="689.46" cy="386.28" r="1.2"/><circle cx="694.68" cy="385.76" r="1.2"/><circle cx="699.90" cy="385.25" r="1.2"/><circle cx="705.12" cy="384.74" r="1.2"/><circle cx="710.34" cy="384.22" r="1.2"/><circle cx="715.56" cy="383.71" r="1.2"/><circle cx="720.78" cy="383.20" r="1.2"/><circle cx="726.00" cy="382.69" r="1.2"/><circle cx="731.23" cy="382.17" r="1.2"/><circle cx="736.45" cy="381.66" r="1.2"/><circle cx="741.67" cy="381.15" r="1.2"/><circle cx="746.89" cy="380.63" r="1.2"/><circle cx="752.11" cy="380.12" r="1.2"/><circle cx="757.33" cy="379.61" r="1.2"/><circle cx="762.55" cy="379.10" r="1.2"/><circle cx="767.77" cy="378.58" r="1.2"/><circle cx="772.99" cy="378.07" r="1.2"/><circle cx="778.21" cy="377.56" r="1.2"/><circle cx="783.43" cy="377.05" r="1.2"/><circle cx="788.66" cy="376.53" r="1.2"/><circle cx="793.88" cy="376.02" r="1.2"/><circle cx="799.10" cy="375.51" r="1.2"/><circle cx="804.32" cy="374.99" r="1.2"/><circle cx="809.54" cy="374.48" r="1.2"/><circle cx="814.76" cy="373.97" r="1.2"/><circle cx="819.98" cy="373.46" r="1.2"/><circle cx="825.20" cy="372.94" r="1.2"/><circle cx="830.42" cy="372.43" r="1.2"/><circle cx="835.64" cy="371.92" r="1.2"/><circle cx="840.87" cy="371.40" r="1.2"/><circle cx="846.09" cy="370.89" r="1.2"/><circle cx="851.31" cy="370.38" r="1.2"/><circle cx="856.53" cy="369.87" r="1.2"/><circle cx="861.75" cy="369.35" r="1.2"/><circle cx="866.97" cy="368.84" r="1.2"/><circle cx="872.19" cy="368.33" r="1.2"/><circle cx="877.41" cy="367.82" r="1.2"/><circle cx="882.63" cy="367.30" r="1.2"/><circle cx="887.85" cy="366.79" r="1.2"/><circle cx="893.07" cy="366.28" r="1.2"/><circle cx="898.30" cy="365.76" r="1.2"/><circle cx="903.52" cy="365.25" r="1.2"/><circle cx="908.74" cy="364.74" r="1.2"/><circle cx="913.96" cy="364.23" r="1.2"/><circle cx="919.18" cy="363.71" r="1.2"/><circle cx="924.40" cy="363.20" r="1.2"/></g>
<circle cx="806.6" cy="432.7" r="17.6" fill="#c0508f" fill-opacity="0.2"/>
<polyline points="511.7,844.3 656.9,405.5" fill="none" stroke="#111" stroke-width="2.2" stroke-linecap="round"/>
<polyline points="645.8,411.1 656.9,405.5 663.7,416.7" fill="none" stroke="#111" stroke-width="2.2" stroke-linecap="round" stroke-linejoin="round"/>
<line x1="660.2" y1="402.9" x2="839" y2="444.5" stroke="#111" stroke-width="2.4" stroke-linecap="round"/>
<line x1="627.2" y1="517.2" x2="830" y2="532" stroke="#111" stroke-width="2.4" stroke-linecap="round"/>
<polyline points="830,532 938.1,167.2" fill="none" stroke="#111" stroke-width="2.2" stroke-linecap="round"/>
<polyline points="927.2,172.5 938.1,167.2 944.6,178.1" fill="none" stroke="#111" stroke-width="2.2" stroke-linecap="round" stroke-linejoin="round"/>
<text x="779.6" y="411" font-size="14" font-weight="bold" fill="#1a1a1a" textLength="65.4" lengthAdjust="spacingAndGlyphs">Breakout</text>
<line x1="789.4" y1="163" x2="955" y2="163" stroke="#b2243a" stroke-width="2"/>
<text x="842.4" y="151.6" font-size="20" font-weight="bold" fill="#a8283a" textLength="60.4" lengthAdjust="spacingAndGlyphs">Target</text>
<text x="963.9" y="49.4" font-size="10.3" fill="#222" stroke="#222" stroke-width="0.32">156,000.00</text>
<text x="963.9" y="84.5" font-size="10.3" fill="#222" stroke="#222" stroke-width="0.32">151,000.00</text>
<text x="963.9" y="120.8" font-size="10.3" fill="#222" stroke="#222" stroke-width="0.32">146,000.00</text>
<text x="963.9" y="158.4" font-size="10.3" fill="#222" stroke="#222" stroke-width="0.32">141,000.00</text>
<text x="963.9" y="197.3" font-size="10.3" fill="#222" stroke="#222" stroke-width="0.32">136,000.00</text>
<text x="963.9" y="229.5" font-size="10.3" fill="#222" stroke="#222" stroke-width="0.32">132,000.00</text>
<text x="963.9" y="262.6" font-size="10.3" fill="#222" stroke="#222" stroke-width="0.32">128,000.00</text>
<text x="963.9" y="296.9" font-size="10.3" fill="#222" stroke="#222" stroke-width="0.32">124,000.00</text>
<text x="963.9" y="332.2" font-size="10.3" fill="#222" stroke="#222" stroke-width="0.32">120,000.00</text>
<text x="963.9" y="368.7" font-size="10.3" fill="#222" stroke="#222" stroke-width="0.32">116,000.00</text>
<text x="963.9" y="406.6" font-size="10.3" fill="#222" stroke="#222" stroke-width="0.32">112,000.00</text>
<text x="963.9" y="486.4" font-size="10.3" fill="#222" stroke="#222" stroke-width="0.32">104,000.00</text>
<text x="963.9" y="528.7" font-size="10.3" fill="#222" stroke="#222" stroke-width="0.32">100,000.00</text>
<text x="963.9" y="561.5" font-size="10.3" fill="#222" stroke="#222" stroke-width="0.32">97,000.00</text>
<text x="963.9" y="595.4" font-size="10.3" fill="#222" stroke="#222" stroke-width="0.32">94,000.00</text>
<text x="963.9" y="630.4" font-size="10.3" fill="#222" stroke="#222" stroke-width="0.32">91,000.00</text>
<text x="963.9" y="666.5" font-size="10.3" fill="#222" stroke="#222" stroke-width="0.32">88,000.00</text>
<text x="963.9" y="703.9" font-size="10.3" fill="#222" stroke="#222" stroke-width="0.32">85,000.00</text>
<text x="963.9" y="742.6" font-size="10.3" fill="#222" stroke="#222" stroke-width="0.32">82,000.00</text>
<text x="963.9" y="769.2" font-size="10.3" fill="#222" stroke="#222" stroke-width="0.32">80,000.00</text>
<text x="963.9" y="796.5" font-size="10.3" fill="#222" stroke="#222" stroke-width="0.32">78,000.00</text>
<text x="963.9" y="824.5" font-size="10.3" fill="#222" stroke="#222" stroke-width="0.32">76,000.00</text>
<text x="963.9" y="853.3" font-size="10.3" fill="#222" stroke="#222" stroke-width="0.32">74,000.00</text>
<text x="963.9" y="882.8" font-size="10.3" fill="#222" stroke="#222" stroke-width="0.32">72,000.00</text>
<text x="963.9" y="910.1" font-size="10.3" fill="#222" stroke="#222" stroke-width="0.32">70,200.00</text>
<text x="963.9" y="938.1" font-size="10.3" fill="#222" stroke="#222" stroke-width="0.32">68,400.00</text>
<text x="963.9" y="965.2" font-size="10.3" fill="#222" stroke="#222" stroke-width="0.32">66,700.00</text>
<text x="963.9" y="992.2" font-size="10.3" fill="#222" stroke="#222" stroke-width="0.32">65,050.00</text>
<rect x="955.1" y="155.7" width="63.9" height="15.2" fill="#b2243a"/>
<text x="963.6" y="167" font-size="10.5" font-weight="bold" fill="#fff" textLength="50.8" lengthAdjust="spacingAndGlyphs">139,925.39</text>
<rect x="955.6" y="425.5" width="63.8" height="27.5" rx="2" fill="#000"/>
<text x="963.5" y="436.8" font-size="10.5" fill="#fff" textLength="51.2" lengthAdjust="spacingAndGlyphs">108,984.00</text>
<text x="963.5" y="448.8" font-size="10.5" fill="#fff" textLength="39.9" lengthAdjust="spacingAndGlyphs">16:19:06</text>
<rect x="958.5" y="5" width="59.5" height="20.5" rx="3" fill="#fff" stroke="#eef0f3" stroke-width="1"/>
<text x="966.7" y="19.1" font-size="10.5" fill="#222" stroke="#222" stroke-width="0.25" textLength="23.8" lengthAdjust="spacingAndGlyphs">USDC</text>
<text x="92" y="1010" font-size="10.5" font-weight="bold" fill="#333" text-anchor="middle">Dec</text>
<text x="194.8" y="1010" font-size="10.5" font-weight="bold" fill="#333" text-anchor="middle">2025</text>
<text x="296.7" y="1010" font-size="10.5" font-weight="bold" fill="#333" text-anchor="middle">Feb</text>
<text x="389.3" y="1010" font-size="10.5" font-weight="bold" fill="#333" text-anchor="middle">Mar</text>
<text x="491.7" y="1010" font-size="10.5" font-weight="bold" fill="#333" text-anchor="middle">Apr</text>
<text x="590.9" y="1010" font-size="10.5" font-weight="bold" fill="#333" text-anchor="middle">May</text>
<text x="693.4" y="1010" font-size="10.5" font-weight="bold" fill="#333" text-anchor="middle">Jun</text>
<text x="792.5" y="1010" font-size="10.5" font-weight="bold" fill="#333" text-anchor="middle">Jul</text>
<text x="894.6" y="1010" font-size="10.5" font-weight="bold" fill="#333" text-anchor="middle">Aug</text>
<circle cx="812.8" cy="981.6" r="8.4" fill="none" stroke="#7e4a92" stroke-width="1.5"/>
<path d="M815.2,977.6 L810.2,981.9 L815.6,981.2 L810.5,985.8" fill="none" stroke="#8e3aae" stroke-width="1.7" stroke-linecap="round" stroke-linejoin="round"/>
<text x="7.3" y="18.9" font-size="10" fill="#2a2a2a" stroke="#2a2a2a" stroke-width="0.3" textLength="146.5" lengthAdjust="spacingAndGlyphs">Bitcoin / USDC · 1D · COINBASE</text>
<text x="160.6" y="18.9" font-size="10" fill="#2a2a2a" stroke="#2a2a2a" stroke-width="0.3" textLength="58.4" lengthAdjust="spacingAndGlyphs">O109,217.98</text>
<text x="225.8" y="18.9" font-size="10" fill="#2a2a2a" stroke="#2a2a2a" stroke-width="0.3" textLength="58.4" lengthAdjust="spacingAndGlyphs">H109,741.64</text>
<text x="291" y="18.9" font-size="10" fill="#2a2a2a" stroke="#2a2a2a" stroke-width="0.3" textLength="56.2" lengthAdjust="spacingAndGlyphs">L108,657.35</text>
<text x="354.5" y="18.9" font-size="10" fill="#2a2a2a" stroke="#2a2a2a" stroke-width="0.3" textLength="56.6" lengthAdjust="spacingAndGlyphs">C108,984.00</text>
<text x="419" y="18.9" font-size="10" fill="#2a2a2a" stroke="#2a2a2a" stroke-width="0.3" textLength="35.6" lengthAdjust="spacingAndGlyphs">−233.98</text>
<text x="458.7" y="18.9" font-size="10" fill="#2a2a2a" stroke="#2a2a2a" stroke-width="0.3" textLength="36.7" lengthAdjust="spacingAndGlyphs">(−0.21%)</text>
<rect x="0" y="0" width="1024" height="2" fill="#1e1e1e"/>
<rect x="0" y="0" width="1.4" height="1015" fill="#666"/>
<rect x="1022" y="0" width="2" height="1015" fill="#333"/>
</svg>
</body></html>
